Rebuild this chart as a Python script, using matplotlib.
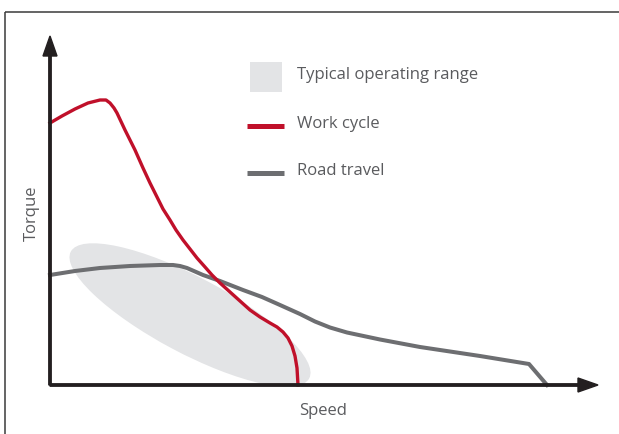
import matplotlib
matplotlib.use("Agg")
import matplotlib.pyplot as plt
from matplotlib.patches import Ellipse, Rectangle

# ---- data (speed, torque in arbitrary units) ----
speed_work = [0, 12, 25, 38, 50, 56, 60, 64, 67, 75, 85, 93, 100, 107, 113, 120, 126,
              133, 140, 147, 155, 162, 170, 180, 190, 200, 210, 220, 227, 233, 238,
              242, 245, 247, 248]
torque_work = [262, 269, 276, 282, 285, 285, 282, 277, 272, 255, 235, 217, 202, 188,
               176, 165, 155, 145, 136, 127, 118, 110, 102, 93, 84, 75, 68, 62, 58,
               53, 47, 39, 29, 17, 0]
speed_road = [0, 25, 50, 80, 110, 123, 130, 137, 153, 170, 193, 212, 230, 250, 265,
              280, 297, 330, 370, 430, 479, 497]
torque_road = [110, 114, 117, 119, 120, 120, 119, 117, 110, 104, 95, 88, 80, 71, 63.5,
               57.5, 52.5, 45.5, 38, 29, 21, 0]

range_center = (140, 70)
range_width = 270
range_height = 76
range_angle = -28

legend_labels = ["Typical operating range", "Work cycle", "Road travel"]
x_label = "Speed"
y_label = "Torque"

RED = "#c0102a"
GRAY = "#6d6e71"
FILL = "#e3e4e6"
AXC = "#231f20"
TXT = "#5a5b5e"

plt.rcParams["font.family"] = ["Open Sans", "DejaVu Sans"]

fig = plt.figure(figsize=(6.19, 4.34), dpi=100)
ax = fig.add_axes([0, 0, 1, 1])
ax.set_xlim(-50, 569)
ax.set_ylim(-49, 385)
ax.axis("off")

# frame border
ax.plot([-45, -45], [-60, 373], color="#3a3a3a", lw=1.1, solid_capstyle="butt")
ax.plot([-45, 600], [373, 373], color="#3a3a3a", lw=1.1, solid_capstyle="butt")

# operating range
ax.add_patch(Ellipse(range_center, range_width, range_height, angle=range_angle,
                     facecolor=FILL, edgecolor="none", zorder=1))

# curves
ax.plot(speed_road, torque_road, color=GRAY, lw=2.9, zorder=2, solid_joinstyle="round")
ax.plot(speed_work, torque_work, color=RED, lw=2.4, zorder=3, solid_joinstyle="round")

# axes with arrows
ax.arrow(0, 0, 548, 0, width=2.4, head_width=14, head_length=20,
         length_includes_head=True, color=AXC, zorder=4)
ax.arrow(0, 0, 0, 349, width=2.4, head_width=14, head_length=20,
         length_includes_head=True, color=AXC, zorder=4)

ax.text(273, -26, x_label, ha="center", va="center", fontsize=12, color=TXT)
ax.text(-18, 172, y_label, ha="center", va="center", fontsize=12, color=TXT, rotation=90)

# legend
ax.add_patch(Rectangle((200, 293), 32, 30, facecolor=FILL, edgecolor="none"))
ax.plot([197, 234], [259, 259], color=RED, lw=3.6, solid_capstyle="butt")
ax.plot([197, 234], [212, 212], color=GRAY, lw=3.6, solid_capstyle="butt")
ax.text(247, 310, legend_labels[0], ha="left", va="center", fontsize=12, color=TXT)
ax.text(247, 261, legend_labels[1], ha="left", va="center", fontsize=12, color=TXT)
ax.text(247, 214, legend_labels[2], ha="left", va="center", fontsize=12, color=TXT)

fig.savefig("out.png", dpi=100, facecolor="white")
